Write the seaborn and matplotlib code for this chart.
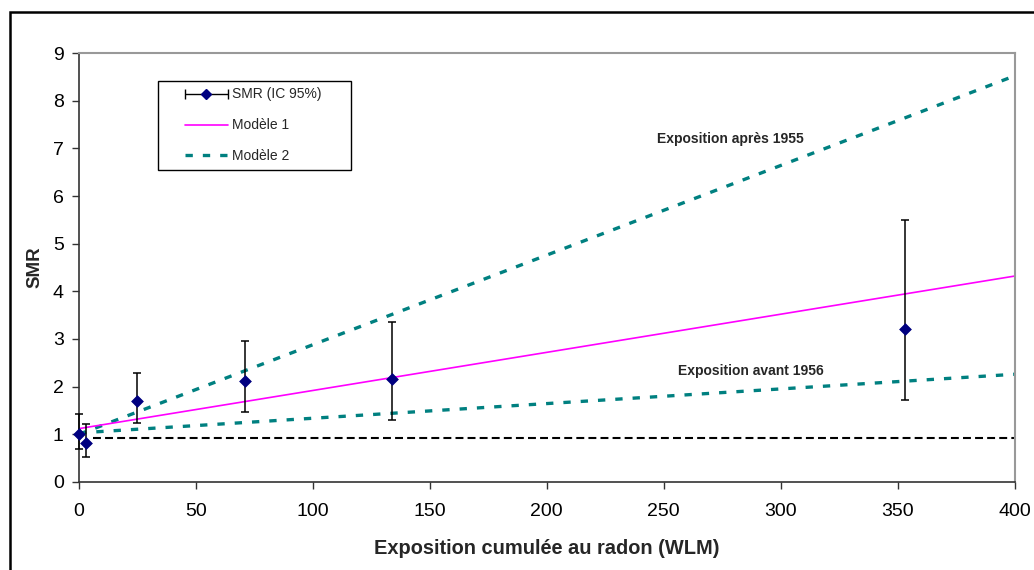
import numpy as np
import pandas as pd
import seaborn as sns
import matplotlib
matplotlib.use("Agg")
import matplotlib.pyplot as plt
from matplotlib.lines import Line2D
from matplotlib.patches import Rectangle
from matplotlib.legend_handler import HandlerErrorbar, HandlerLine2D

# ---- data ----
smr_x = [0, 3, 25, 71, 134, 353]
smr_y = [1.00, 0.82, 1.70, 2.12, 2.16, 3.22]
smr_lo = [0.69, 0.53, 1.23, 1.47, 1.31, 1.72]
smr_hi = [1.43, 1.22, 2.29, 2.96, 3.36, 5.50]

model_x = [0, 400]
model1_y = [1.12, 4.32]
model2_after_y = [1.00, 8.52]
model2_before_y = [1.03, 2.26]

ref_x = [6, 400]
ref_y = [0.93, 0.93]

x_ticks = [0, 50, 100, 150, 200, 250, 300, 350, 400]
y_ticks = [0, 1, 2, 3, 4, 5, 6, 7, 8, 9]

labels = {"smr": "SMR (IC 95%)", "m1": "Modèle 1", "m2": "Modèle 2"}
ann_after = "Exposition après 1955"
ann_before = "Exposition avant 1956"
xlabel = "Exposition cumulée au radon (WLM)"
ylabel = "SMR"

# ---- style ----
sns.set_theme(style="white")
plt.rcParams["font.family"] = ["Liberation Sans", "DejaVu Sans"]

fig = plt.figure(figsize=(10.34, 5.70), dpi=100)
ax = fig.add_axes([0.0764, 0.1544, 0.9048, 0.7526])

teal = "#008080"
magenta = "#FF00FF"
navy = "#000080"

# reference dashed line
ref_df = pd.DataFrame({"x": ref_x, "y": ref_y})
sns.lineplot(data=ref_df, x="x", y="y", ax=ax, color="black", lw=1.5,
             linestyle=(0, (3.8, 2.0)), legend=False, clip_on=False)

# model 2 (two lines)
m2a = pd.DataFrame({"x": model_x, "y": model2_after_y})
m2b = pd.DataFrame({"x": model_x, "y": model2_before_y})
for d in (m2a, m2b):
    sns.lineplot(data=d, x="x", y="y", ax=ax, color=teal, lw=2.4,
                 linestyle=(0, (2.2, 3.0)), legend=False)

# model 1
m1 = pd.DataFrame({"x": model_x, "y": model1_y})
sns.lineplot(data=m1, x="x", y="y", ax=ax, color=magenta, lw=1.2, legend=False)

# SMR error bars
yerr = np.array([np.array(smr_y) - np.array(smr_lo), np.array(smr_hi) - np.array(smr_y)])
ax.errorbar(smr_x, smr_y, yerr=yerr, fmt="none", ecolor="black", elinewidth=1.1,
            capsize=3.2, capthick=1.1, zorder=4, clip_on=False)
smr_df = pd.DataFrame({"x": smr_x, "y": smr_y})
sns.scatterplot(data=smr_df, x="x", y="y", ax=ax, marker="D", s=36, color=navy,
                edgecolor=navy, linewidth=0.5, zorder=5, legend=False, clip_on=False)

# axes
ax.set_xlim(0, 400)
ax.set_ylim(0, 9)
ax.set_xticks(x_ticks)
ax.set_yticks(y_ticks)
ax.tick_params(axis="both", which="major", labelsize=14, direction="out",
               length=5, width=1, color="#333333", labelcolor="black")
ax.tick_params(axis="x", pad=10, bottom=True)
ax.tick_params(axis="y", pad=6, left=True)
for side in ("top", "right"):
    ax.spines[side].set_color("#999999")
    ax.spines[side].set_linewidth(1.5)
for side in ("left", "bottom"):
    ax.spines[side].set_color("#333333")
    ax.spines[side].set_linewidth(1.2)
ax.set_xlabel(xlabel, fontsize=14.4, fontweight="bold", labelpad=14)
ax.set_ylabel(ylabel, fontsize=13.5, fontweight="bold", labelpad=7)

# annotations
ax.text(247.3, 7.19, ann_after, fontsize=10, fontweight="bold", ha="left", va="center")
ax.text(256.0, 2.33, ann_before, fontsize=10, fontweight="bold", ha="left", va="center")


# legend handlers that leave blank space on the left of the handle area
class ShiftLine(HandlerLine2D):
    def __init__(self, shift, **kw):
        super().__init__(**kw)
        self.shift = shift

    def get_xdata(self, legend, xdescent, ydescent, width, height, fontsize):
        s = self.shift * fontsize
        return super().get_xdata(legend, xdescent - s, ydescent, width - s, height, fontsize)


class ShiftErr(HandlerErrorbar):
    def __init__(self, shift, **kw):
        super().__init__(**kw)
        self.shift = shift

    def get_xdata(self, legend, xdescent, ydescent, width, height, fontsize):
        s = self.shift * fontsize
        return super().get_xdata(legend, xdescent - s, ydescent, width - s, height, fontsize)


LEG_FS = 10
SHIFT = 1.47
HLEN = 4.57
proxy = ax.errorbar([np.nan], [np.nan], xerr=[1], fmt="D", color=navy, ms=5,
                    ecolor="black", elinewidth=1.0, capsize=3.5, capthick=1.0,
                    label=labels["smr"])
h_m1 = Line2D([], [], color=magenta, lw=1.2)
h_m2 = Line2D([], [], color=teal, lw=2.4, linestyle=(0, (2.2, 3.0)))
leg = ax.legend([proxy, h_m1, h_m2], [labels["smr"], labels["m1"], labels["m2"]],
                handler_map={proxy: ShiftErr(SHIFT, xerr_size=(HLEN - SHIFT) / 2),
                             h_m1: ShiftLine(SHIFT), h_m2: ShiftLine(SHIFT)},
                loc="upper left", bbox_to_anchor=(0.0844, 0.935, 0.2063, 0.0),
                mode="expand",
                fontsize=LEG_FS, handlelength=HLEN, handletextpad=0.3,
                labelspacing=1.22, borderpad=0.47, borderaxespad=0,
                frameon=True, fancybox=False, edgecolor="black", framealpha=1)
leg.get_frame().set_linewidth(1.0)

# outer chart frame
fig.patches.append(Rectangle((10 / 1034, -0.05), 1.1, 1 - 11.5 / 570 + 0.05,
                             transform=fig.transFigure, fill=False,
                             edgecolor="black", lw=1.8, zorder=0))

fig.savefig("out.png", dpi=100)
